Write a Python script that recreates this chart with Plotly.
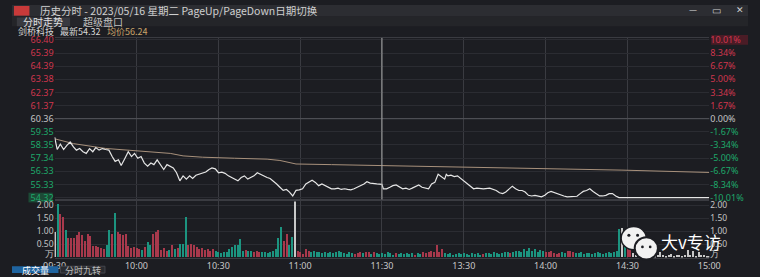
import plotly.graph_objects as go

W, H = 760, 277

# ---------------- data ----------------
prev_close = 60.36
price_ticks = [66.40, 65.39, 64.39, 63.38, 62.37, 61.37, 60.36, 59.35, 58.35, 57.34, 56.33, 55.33, 54.32]
pct_labels = ["10.01%", "8.34%", "6.67%", "5.00%", "3.34%", "1.67%", "0.00%",
              "-1.67%", "-3.34%", "-5.00%", "-6.67%", "-8.34%", "-10.01%"]
time_ticks = [0, 30, 60, 90, 120, 150, 180, 210, 240]
time_labels = ["09:30", "10:00", "10:30", "11:00", "11:30", "13:30", "14:00", "14:30", "15:00"]
vol_ticks = [0.15, 0.5, 1.0, 1.5, 2.0]
vol_labels = ["万", "0.50", "1.00", "1.50", "2.00"]

price_min = [0, 0.95, 2.1, 3.3, 4.5, 5.7, 6.9, 8.0, 9.2, 10.4, 11.6, 12.8, 14.0, 15.1, 16.3, 17.5, 18.7,
             19.9, 21.1, 22.2, 23.4, 24.4, 25.8, 27.0, 28.2, 29.3, 30.5, 31.7, 32.9, 34.1, 35.3, 36.4,
             37.6, 38.8, 40.0, 41.2, 42.4, 43.5, 44.7, 45.9, 47.1, 48.3, 49.5, 50.6, 51.8, 53.0, 54.2,
             55.4, 56.6, 57.7, 58.9, 60.1, 61.3, 62.5, 63.7, 64.8, 66.0, 67.2, 68.4, 69.6, 70.8, 71.9,
             73.1, 74.3, 75.5, 76.7, 77.9, 79.0, 80.2, 81.4, 82.6, 83.8, 85.0, 86.1, 87.3, 88.5, 89.7,
             90.9, 92.1, 93.2, 94.4, 95.6, 96.8, 98.0, 99.2, 100.3, 101.5, 102.7, 103.9, 105.1, 106.3,
             107.4, 108.6, 109.8, 111.0, 112.2, 113.4, 114.5, 115.7, 118.1, 120.0,
             120.5, 121.7, 122.9, 124.0, 125.2, 126.4, 127.6, 128.8, 130.0, 131.1, 132.3, 133.5, 134.7,
             135.9, 137.1, 138.2, 139.4, 140.6, 141.8, 143.0, 143.6, 144.2, 145.3, 146.5, 147.7, 148.9,
             150.1, 151.3, 152.4, 153.6, 154.8, 157.2, 159.5, 160.7, 161.9, 163.1, 164.3, 165.4, 166.6,
             167.8, 169.0, 170.2, 171.4, 172.5, 173.7, 174.9, 176.1, 177.3, 178.5, 179.7, 180.8, 182.0,
             183.2, 184.4, 185.6, 186.7, 187.9, 189.1, 190.3, 191.5, 192.7, 193.8, 195.0, 196.2, 197.4,
             198.6, 199.8, 200.9, 202.1, 203.3, 204.5, 205.7, 206.9, 240.0]
price_val = [58.94, 58.00, 58.40, 58.00, 58.32, 58.57, 58.20, 57.95, 58.07, 57.83, 57.70, 58.07, 57.83,
             58.15, 57.95, 58.07, 58.00, 57.95, 57.46, 57.09, 57.21, 56.77, 57.33, 57.83, 57.46, 57.70,
             57.33, 57.46, 56.96, 56.72, 56.96, 56.84, 57.21, 56.84, 56.47, 56.84, 56.72, 56.59, 56.22,
             55.60, 55.98, 55.73, 55.98, 55.78, 56.03, 56.10, 56.22, 56.27, 56.47, 56.59, 56.52, 56.22,
             56.27, 56.17, 55.98, 55.85, 55.73, 55.60, 55.85, 55.98, 55.73, 55.85, 55.98, 56.22, 56.10,
             55.93, 55.85, 55.78, 55.60, 55.36, 55.11, 54.87, 54.94, 54.74, 54.44, 54.87, 54.91, 54.99,
             55.36, 55.48, 55.65, 55.48, 55.23, 55.36, 55.23, 55.11, 54.99, 54.99, 55.04, 54.94, 54.99,
             54.94, 54.91, 54.99, 55.11, 55.23, 55.36, 55.53, 55.43, 55.36, 55.33,
             54.99, 54.99, 55.11, 55.23, 55.28, 55.11, 54.99, 55.04, 54.94, 55.04, 55.19, 55.28, 55.11,
             55.04, 54.99, 55.36, 55.48, 56.10, 55.93, 55.73, 56.10, 55.98, 56.03, 55.93, 55.98, 55.78,
             55.60, 55.43, 55.23, 54.99, 55.04, 54.99, 55.04, 54.94, 54.86, 54.69, 54.62, 54.74, 54.99,
             55.19, 54.99, 54.86, 54.86, 54.74, 54.49, 54.44, 54.49, 54.42, 54.37, 54.49, 54.69, 54.79,
             54.69, 54.62, 54.49, 54.44, 54.37, 54.37, 54.37, 54.42, 54.62, 54.79, 54.86, 54.99, 54.79,
             54.62, 54.44, 54.44, 54.49, 54.62, 54.62, 54.44, 54.32, 54.32]

avg_min = [0, 6.9, 18.7, 30.5, 42.4, 47.1, 54.2, 66.0, 77.9, 82.6, 88.5, 101.5, 120.0, 148.9, 178.5, 208.0, 240.0]
avg_val = [58.82, 58.45, 58.08, 57.90, 57.70, 57.51, 57.41, 57.33, 57.26, 57.16, 56.89, 56.84, 56.77,
           56.67, 56.52, 56.42, 56.24]

volume = [
    0.95, 2.02, 1.65, 1.52, 1.05, 0.74, 0.72, 0.74, 0.85, 0.98,
    0.85, 0.62, 0.88, 0.82, 0.42, 0.42, 0.38, 0.36, 0.32, 0.45,
    1.02, 0.88, 1.68, 0.98, 0.88, 0.85, 0.90, 0.42, 0.35, 0.40,
    0.35, 0.32, 0.28, 0.38, 0.58, 0.45, 0.88, 0.95, 1.05, 0.28,
    0.35, 0.22, 0.28, 0.45, 0.30, 0.35, 0.50, 0.52, 1.52, 0.45,
    0.50, 0.45, 0.38, 0.32, 0.35, 0.28, 0.30, 0.25, 0.30, 0.22,
    0.18, 0.15, 0.18, 0.20, 0.30, 0.38, 0.45, 0.48, 0.70, 0.25,
    0.28, 0.22, 0.25, 0.20, 0.22, 0.18, 0.20, 0.18, 0.15, 0.18,
    0.22, 0.30, 0.72, 1.15, 0.60, 0.90, 0.48, 0.78, 2.15, 0.25,
    0.20, 0.12, 0.32, 0.25, 0.18, 0.22, 0.20, 0.18, 0.15, 0.20,
    0.14, 0.20, 0.15, 0.20, 0.22, 0.18, 0.15, 0.12, 0.18, 0.15,
    0.12, 0.15, 0.18, 0.15, 0.20, 0.18, 0.12, 0.20, 0.15, 0.12,
    0.15, 0.12, 0.18, 0.14, 0.10, 0.15, 0.12, 0.16, 0.12, 0.14,
    0.12, 0.15, 0.10, 0.14, 0.12, 0.18, 0.15, 0.20, 0.25, 0.18,
    0.46, 0.20, 0.30, 0.15, 0.12, 0.14, 0.10, 0.12, 0.15, 0.12,
    0.14, 0.12, 0.10, 0.15, 0.12, 0.14, 0.10, 0.12, 0.16, 0.14,
    0.12, 0.18, 0.15, 0.12, 0.14, 0.20, 0.18, 0.15, 0.20, 0.22,
    0.25, 0.18, 0.30, 0.22, 0.35, 0.25, 0.32, 0.20, 0.28, 0.22,
    0.20, 0.18, 0.22, 0.15, 0.12, 0.14, 0.18, 0.15, 0.22, 0.25,
    0.20, 0.15, 0.14, 0.18, 0.12, 0.15, 0.14, 0.12, 0.16, 0.18,
    0.15, 0.12, 0.14, 0.18, 0.15, 0.20, 0.25, 1.08, 1.12, 1.02,
    0.46, 0.28, 0.15, 0.10, 0.08, 0.12, 0.08, 0.06, 0.10, 0.08,
    0.06, 0.08, 0.20, 0.10, 0.06, 0.08, 0.12, 0.06, 0.08, 0.10,
    0.06, 0.08, 0.28, 0.10, 0.25, 0.06, 0.18, 0.10, 0.08, 0.06,
    0.05]
vol_dir = ("wgrrgrrrrr" "rrrrrrrrrg" "grgrrrrrrr" "rrgrggrrrr" "rrgrgrgggr" "rrrrrrrrrg"
           "gggggggggg" "rggrrrgggg" "ggggrrggwr" "rrrrgggggg" "gggggggggg" "rrrgrrgrgg"
           "gggggrgggg" "ggrggrrrrr" "rrrggggggg" "gggggggrgg" "gggggggrgg" "gggggggggg"
           "rrrrrrggrr" "rggggggggg" "ggggggggwg" "rrwwwwwwww" "wwwwwwwwww" "wwwwwwwwww" "w")

# ---------------- styling ----------------
BG = "#1c1d22"
RED = "#d0364e"
GREEN = "#1ea86a"
GRAY = "#c4c4c4"
DIR_COLOR = {"r": "#a8394c", "g": "#1c9480", "w": "#c8c8c8"}
FONT = "Noto Sans CJK SC"

def py(p):  # pixel from top -> paper y
    return 1 - p / H

def px(p):
    return p / W

def tick_color(v):
    if v > prev_close + 0.001:
        return RED
    if v < prev_close - 0.001:
        return GREEN
    return GRAY

left_text = [f"<span style='color:{tick_color(v)}'>{v:.2f}</span>" for v in price_ticks]
right_text = [f"<span style='color:{tick_color(v)}'>{t}</span>" for v, t in zip(price_ticks, pct_labels)]

minutes = list(range(len(volume)))
bar_colors = [DIR_COLOR[c] for c in vol_dir]

fig = go.Figure()
fig.add_trace(go.Scatter(x=avg_min, y=avg_val, mode="lines", line=dict(color="#a8917c", width=1),
                         xaxis="x", yaxis="y", hoverinfo="skip"))
fig.add_trace(go.Scatter(x=price_min, y=price_val, mode="lines", line=dict(color="#e6e6e6", width=1.2),
                         xaxis="x", yaxis="y", hoverinfo="skip"))
fig.add_trace(go.Scatter(x=[0], y=[prev_close], mode="markers", marker=dict(opacity=0),
                         xaxis="x", yaxis="y2", hoverinfo="skip"))
fig.add_trace(go.Bar(x=minutes, y=volume, marker=dict(color=bar_colors, line=dict(width=0)),
                     width=0.5, xaxis="x2", yaxis="y3", hoverinfo="skip"))
fig.add_trace(go.Scatter(x=[0], y=[0], mode="markers", marker=dict(opacity=0),
                         xaxis="x2", yaxis="y4", hoverinfo="skip"))

xdom = [px(44), px(720)]
pdom = [py(201), py(34)]
vdom = [py(261), py(203)]
prange = [54.32 - 2 / 13.493, 66.40 + 2 / 13.493]
vrange = [0, 58 / 27.0]
tick_font = dict(family="Noto Sans", size=9, color=GRAY)
vtick_font = dict(family="Noto Sans", size=8.5, color=GRAY)

fig.update_layout(
    width=W, height=H, margin=dict(l=0, r=0, t=0, b=0),
    paper_bgcolor=BG, plot_bgcolor=BG, showlegend=False, bargap=0,
    xaxis=dict(domain=xdom, anchor="y", range=[0, 240], tickvals=time_ticks, showticklabels=False,
               showgrid=True, gridcolor="#3a3b41", gridwidth=1, zeroline=False,
               showline=True, linecolor="#3a3b41", mirror=True, fixedrange=True),
    yaxis=dict(domain=pdom, anchor="x", range=prange, tickvals=price_ticks, ticktext=left_text,
               tickfont=tick_font, showgrid=True, gridcolor="#2b2c32", zeroline=False,
               showline=False, ticks="", fixedrange=True),
    yaxis2=dict(overlaying="y", side="right", anchor="x", range=prange, tickvals=price_ticks,
                ticktext=right_text, tickfont=tick_font, showgrid=False, zeroline=False, ticks=""),
    xaxis2=dict(domain=xdom, anchor="y3", range=[0, 240], tickvals=time_ticks, ticktext=time_labels,
                tickfont=dict(family="Noto Sans", size=9, color="#c8c8c8"), showgrid=True,
                gridcolor="#3a3b41", zeroline=False, showline=True, linecolor="#3a3b41",
                mirror=True, ticks=""),
    yaxis3=dict(domain=vdom, anchor="x2", range=vrange, tickvals=vol_ticks, ticktext=vol_labels,
                tickfont=vtick_font, showgrid=False, zeroline=False, ticks="",
                minor=dict(tickvals=[0.5, 1.0, 1.5, 2.0], showgrid=True, gridcolor="#2b2c32")),
    yaxis4=dict(overlaying="y3", side="right", anchor="x2", range=vrange, tickvals=vol_ticks,
                ticktext=vol_labels, tickfont=vtick_font, showgrid=False, zeroline=False, ticks=""),
)

shapes = []
# title bar, tab row
shapes.append(dict(type="rect", xref="paper", yref="paper", x0=0, x1=1, y0=py(12), y1=1,
                   fillcolor="#2c2d32", line=dict(width=0), layer="below"))
shapes.append(dict(type="rect", xref="paper", yref="paper", x0=0, x1=1, y0=py(22), y1=py(12),
                   fillcolor="#242529", line=dict(width=0), layer="below"))
shapes.append(dict(type="rect", xref="paper", yref="paper", x0=px(5), x1=px(60), y0=py(22), y1=py(13),
                   fillcolor="#393a40", line=dict(width=0), layer="below"))
shapes.append(dict(type="rect", xref="paper", yref="paper", x0=px(2), x1=px(18), y0=py(11), y1=py(1),
                   fillcolor="#c83a3a", line=dict(width=0)))
# label boxes
shapes.append(dict(type="rect", xref="paper", yref="paper", x0=px(17), x1=px(42), y0=py(204), y1=py(194),
                   fillcolor="#1c4a36", line=dict(width=0), layer="below"))
shapes.append(dict(type="rect", xref="paper", yref="paper", x0=px(722), x1=px(760), y0=py(41), y1=py(31),
                   fillcolor="#4a1c26", line=dict(width=0), layer="below"))
# zero line and lunch divider
shapes.append(dict(type="line", xref="paper", yref="y", x0=xdom[0], x1=xdom[1], y0=prev_close, y1=prev_close,
                   line=dict(color="#55565c", width=1)))
shapes.append(dict(type="line", xref="x", yref="paper", x0=120, x1=120, y0=pdom[0], y1=pdom[1],
                   line=dict(color="#a8a8a8", width=1)))
# bottom tabs
shapes.append(dict(type="rect", xref="paper", yref="paper", x0=0, x1=px(48), y0=0, y1=py(270),
                   fillcolor="#1f64a0", line=dict(width=0)))
shapes.append(dict(type="rect", xref="paper", yref="paper", x0=px(50), x1=px(96), y0=0, y1=py(270),
                   fillcolor="#2a2b30", line=dict(color="#45464c", width=1)))
# watermark logo (two chat bubbles)
shapes.append(dict(type="circle", xref="paper", yref="paper", x0=px(629), x1=px(655), y0=py(253), y1=py(229),
                   fillcolor="#f2f2f2", line=dict(color=BG, width=1.5)))
shapes.append(dict(type="circle", xref="paper", yref="paper", x0=px(643), x1=px(667), y0=py(263), y1=py(240),
                   fillcolor="#f2f2f2", line=dict(color=BG, width=2)))
for cx, cy, r in [(637, 238, 1.6), (646, 238, 1.6), (651, 250, 1.4), (659, 250, 1.4)]:
    shapes.append(dict(type="circle", xref="paper", yref="paper", x0=px(cx - r), x1=px(cx + r),
                       y0=py(cy + r), y1=py(cy - r), fillcolor=BG, line=dict(width=0)))
fig.update_layout(shapes=shapes)

ann = []
def txt(x, y, s, color="#d0d0d0", size=10, xanchor="left", family=FONT):
    ann.append(dict(xref="paper", yref="paper", x=px(x), y=py(y), text=s, showarrow=False,
                    xanchor=xanchor, yanchor="middle", font=dict(family=family, size=size, color=color)))

txt(27, 6, "历史分时 - 2023/05/16 星期二 PageUp/PageDown日期切换", "#cfcfcf", 10.5)
txt(703, 5, "—", "#cfcfcf", 9, "center")
txt(727, 5, "▭", "#cfcfcf", 10, "center")
txt(752, 5, "✕", "#cfcfcf", 9, "center")
txt(9, 17, "分时走势", "#e0e0e0", 10)
txt(71, 17, "超级盘口", "#c0c0c0", 10)
txt(4, 27, "剑桥科技", "#d8d8d8", 9)
txt(48, 27, "最新54.32", "#d8d8d8", 9)
txt(96, 27, "均价56.24", "#c9a46a", 9)
txt(24, 274, "成交量", "#ffffff", 9, "center")
txt(73, 274, "分时九转", "#bdbdbd", 9, "center")
txt(701, 244, "大v专访", "#ffffff", 17, "center")
fig.update_layout(annotations=ann)

fig.write_html("out.html", config={"displayModeBar": False})
